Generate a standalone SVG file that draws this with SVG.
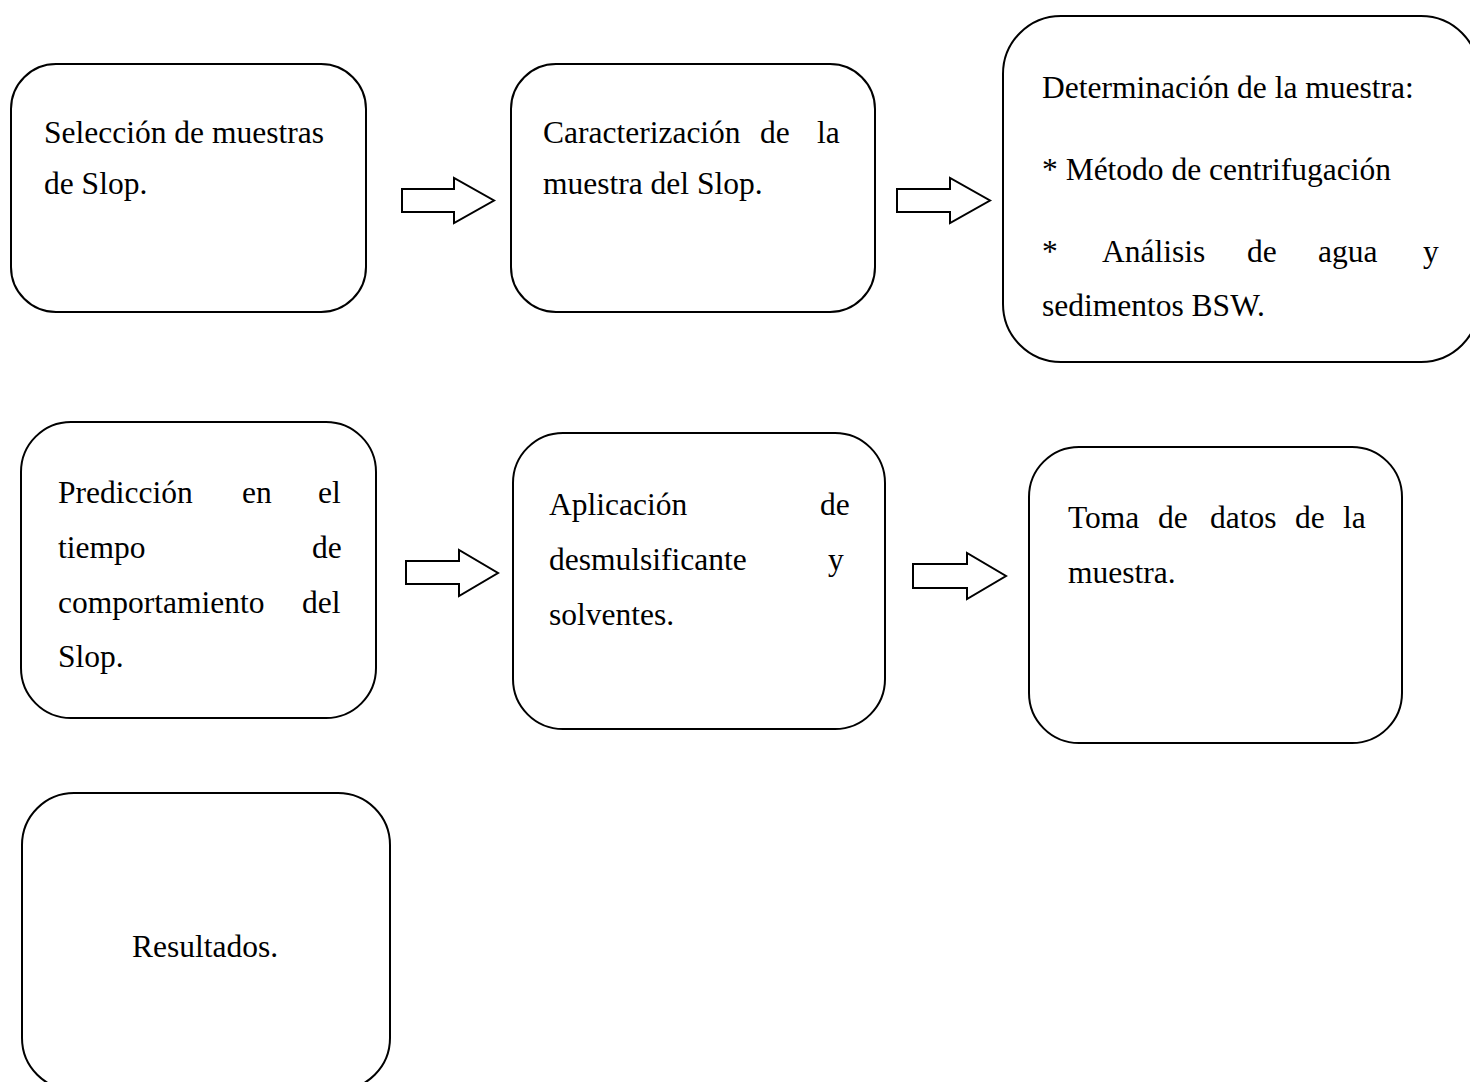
<svg xmlns="http://www.w3.org/2000/svg" width="1470" height="1082" viewBox="0 0 1470 1082">
<style>
.box{fill:#fff;stroke:#000;stroke-width:2}
.arr{fill:#fff;stroke:#000;stroke-width:2;stroke-linejoin:miter}
text{font-family:"Liberation Serif","Times New Roman",serif;font-size:31.5px;fill:#000}
</style>
<rect width="1470" height="1082" fill="#fff"/>
<g id="connectors">
<polygon class="arr" points="402,189 454,189 454,178 494,200.5 454,223 454,212 402,212"/>
<polygon class="arr" points="897,189 950,189 950,178 990,200.5 950,223 950,212 897,212"/>
<polygon class="arr" points="406,561 459,561 459,550 498,573 459,596 459,584 406,584"/>
<polygon class="arr" points="913,564 967,564 967,553 1006,576 967,599 967,588 913,588"/>
</g>
<g id="n1">
<rect class="box" x="11" y="64" width="355" height="248" rx="45"/>
<text x="44" y="143">Selección de muestras</text>
<text x="44" y="194">de Slop.</text>
</g>
<g id="n2">
<rect class="box" x="511" y="64" width="364" height="248" rx="45"/>
<text y="143"><tspan x="543">Caracterización</tspan><tspan x="760">de</tspan><tspan x="817">la</tspan></text>
<text x="543" y="194">muestra del Slop.</text>
</g>
<g id="n3">
<rect class="box" x="1003" y="16" width="476" height="346" rx="58"/>
<text x="1042" y="98">Determinación de la muestra:</text>
<text x="1042" y="180">* Método de centrifugación</text>
<text y="262"><tspan x="1042">*</tspan><tspan x="1102">Análisis</tspan><tspan x="1247">de</tspan><tspan x="1318">agua</tspan><tspan x="1423">y</tspan></text>
<text x="1042" y="316">sedimentos BSW.</text>
</g>
<g id="n4">
<rect class="box" x="21" y="422" width="355" height="296" rx="50"/>
<text y="503"><tspan x="58">Predicción</tspan><tspan x="242">en</tspan><tspan x="318">el</tspan></text>
<text y="558"><tspan x="58">tiempo</tspan><tspan x="312">de</tspan></text>
<text y="613"><tspan x="58">comportamiento</tspan><tspan x="302">del</tspan></text>
<text x="58" y="667">Slop.</text>
</g>
<g id="n5">
<rect class="box" x="513" y="433" width="372" height="296" rx="50"/>
<text y="515"><tspan x="549">Aplicación</tspan><tspan x="820">de</tspan></text>
<text y="570"><tspan x="549">desmulsificante</tspan><tspan x="828">y</tspan></text>
<text x="549" y="625">solventes.</text>
</g>
<g id="n6">
<rect class="box" x="1029" y="447" width="373" height="296" rx="50"/>
<text y="528"><tspan x="1068">Toma</tspan><tspan x="1158">de</tspan><tspan x="1210">datos</tspan><tspan x="1295">de</tspan><tspan x="1343">la</tspan></text>
<text x="1068" y="583">muestra.</text>
</g>
<g id="n7">
<rect class="box" x="22" y="793" width="368" height="297" rx="52"/>
<text x="205" y="957" text-anchor="middle">Resultados.</text>
</g>
</svg>
